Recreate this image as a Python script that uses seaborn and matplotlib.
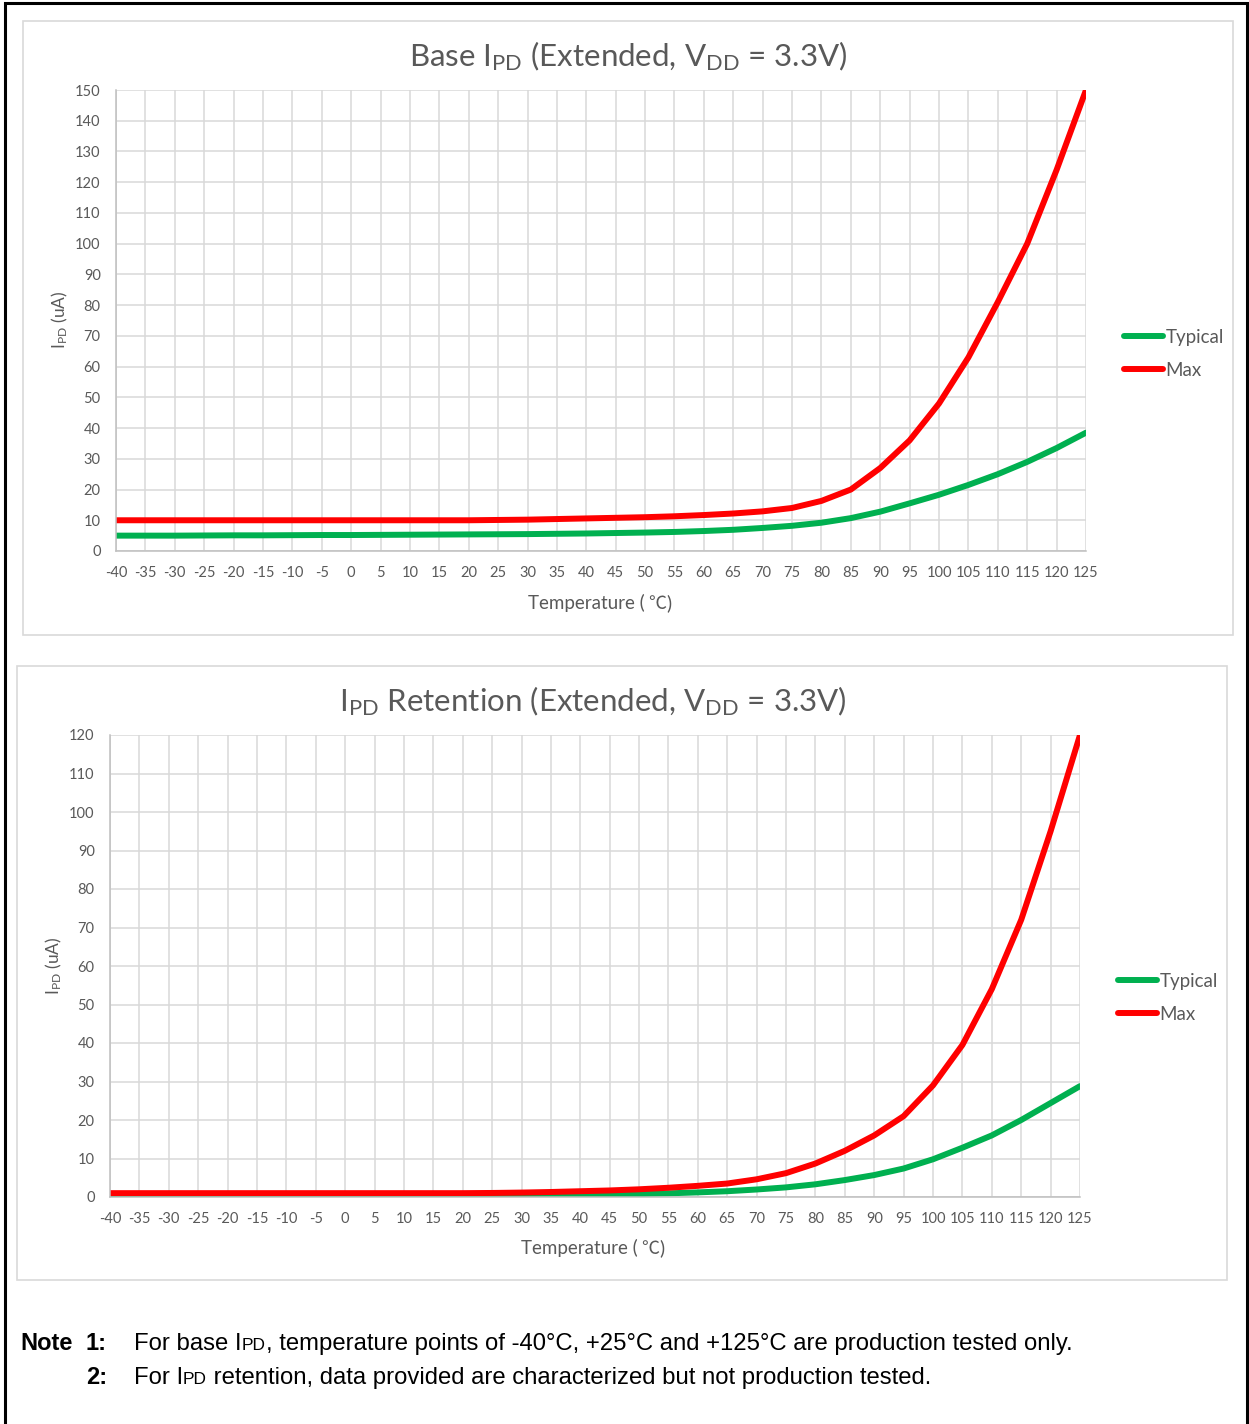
import numpy as np
import pandas as pd
import seaborn as sns
import matplotlib
matplotlib.use("Agg")
import matplotlib.pyplot as plt
from matplotlib.patches import Rectangle
from matplotlib.lines import Line2D

W, H = 1249, 1424

temps = list(range(-40, 130, 5))

base_typical = [5.0, 5.0, 5.0, 5.05, 5.1, 5.1, 5.15, 5.2, 5.2, 5.25, 5.3, 5.35, 5.4,
                5.45, 5.5, 5.6, 5.7, 5.85, 6.0, 6.2, 6.5, 6.9, 7.5, 8.2, 9.2, 10.7,
                12.8, 15.5, 18.3, 21.5, 25.0, 29.0, 33.5, 38.5]
base_max = [10.0] * 13 + [10.1, 10.2, 10.4, 10.6, 10.8, 11.0, 11.3, 11.7, 12.2, 12.9,
                          14.0, 16.3, 20.0, 27.0, 36.0, 48.0, 63.0, 81.0, 100.0, 124.0, 150.0]

ret_typical = [0.3] * 14 + [0.35, 0.4, 0.5, 0.6, 0.75, 0.95, 1.2, 1.5, 1.95, 2.5, 3.3,
                            4.4, 5.7, 7.4, 9.8, 12.8, 16.0, 20.0, 24.4, 28.8]
ret_max = [1.0] * 13 + [1.05, 1.15, 1.3, 1.5, 1.7, 2.0, 2.4, 2.9, 3.5, 4.6, 6.2, 8.7,
                        12.0, 16.0, 21.0, 29.0, 39.5, 54.0, 72.0, 95.0, 120.0]

series_names = ["Typical", "Max"]
colors = {"Typical": "#00b050", "Max": "#ff0000"}

sns.set_theme(style="white")
plt.rcParams["font.family"] = ["Lato", "Noto Sans CJK SC", "DejaVu Sans"]
plt.rcParams["axes.unicode_minus"] = False
plt.rcParams["mathtext.fontset"] = "custom"
plt.rcParams["mathtext.rm"] = "Lato"
plt.rcParams["mathtext.it"] = "Lato:italic"
plt.rcParams["mathtext.bf"] = "Lato:bold"

txt_gray = "#595959"
grid_gray = "#d9d9d9"


def fx(x):
    return x / W


def fy(y):
    return 1 - y / H


def make_df(typ, mx):
    return pd.concat([
        pd.DataFrame({"Temperature": temps, "IPD": typ, "Series": "Typical"}),
        pd.DataFrame({"Temperature": temps, "IPD": mx, "Series": "Max"}),
    ])


fig = plt.figure(figsize=(W / 100, H / 100), dpi=100)
renderer = fig.canvas.get_renderer()


def put_runs(x, y, runs, color="black", center=False):
    # runs: (text, size, weight, family)
    objs = []
    total = 0
    for text, size, weight, fam in runs:
        t = fig.text(0, fy(y), text, ha="left", va="baseline", fontsize=size,
                     fontweight=weight, family=fam, color=color)
        w = t.get_window_extent(renderer).width
        objs.append((t, w))
        total += w
    if center:
        x = x - total / 2
    for t, w in objs:
        t.set_x(fx(x))
        x += w


# outer frame and chart panels
fig.patches.append(Rectangle((fx(5), fy(1440)), fx(1242), 1437 / H, transform=fig.transFigure,
                             fill=False, edgecolor="black", linewidth=2.2))
fig.patches.append(Rectangle((fx(23), fy(635)), fx(1210), 614 / H, transform=fig.transFigure,
                             fill=False, edgecolor=grid_gray, linewidth=1.2))
fig.patches.append(Rectangle((fx(17), fy(1280)), fx(1210), 614 / H, transform=fig.transFigure,
                             fill=False, edgecolor=grid_gray, linewidth=1.2))

charts = [
    dict(df=make_df(base_typical, base_max), box=(116, 90, 1086, 551), ymax=150, ystep=10,
         title=r"Base I$_{\mathrm{PD}}$ (Extended, V$_{\mathrm{DD}}$ = 3.3V)", title_xy=(628, 56),
         ylab_xy=(60, 320), xlab_xy=(600, 609), leg_xy=(1124, 329)),
    dict(df=make_df(ret_typical, ret_max), box=(110, 735, 1080, 1197), ymax=120, ystep=10,
         title=r"I$_{\mathrm{PD}}$ Retention (Extended, V$_{\mathrm{DD}}$ = 3.3V)", title_xy=(593, 701),
         ylab_xy=(54, 966), xlab_xy=(593, 1254), leg_xy=(1118, 973)),
]

lato = ["Lato", "DejaVu Sans"]
cjk = ["Noto Sans CJK SC", "DejaVu Sans"]

for c in charts:
    x0, y0, x1, y1 = c["box"]
    ax = fig.add_axes([fx(x0), fy(y1), fx(x1 - x0), (y1 - y0) / H])
    sns.lineplot(data=c["df"], x="Temperature", y="IPD", hue="Series", palette=colors,
                 linewidth=4.3, ax=ax, legend=False)
    ax.set_xlim(-40, 125)
    ax.set_ylim(0, c["ymax"])
    ax.set_xticks(temps)
    ax.set_yticks(range(0, c["ymax"] + 1, c["ystep"]))
    ax.grid(True, color=grid_gray, linewidth=1.1)
    ax.set_axisbelow(True)
    for s in ["top", "right"]:
        ax.spines[s].set_visible(False)
    for s in ["left", "bottom"]:
        ax.spines[s].set_color("#bfbfbf")
        ax.spines[s].set_linewidth(1.1)
    ax.tick_params(axis="both", length=0, labelsize=10.5, labelcolor=txt_gray)
    ax.tick_params(axis="x", pad=11)
    ax.tick_params(axis="y", pad=11)
    ax.set_xlabel("")
    ax.set_ylabel("")

    fig.text(fx(c["title_xy"][0]), fy(c["title_xy"][1]), c["title"], ha="center", va="center",
             fontsize=22.5, color=txt_gray)
    fig.text(fx(c["ylab_xy"][0]), fy(c["ylab_xy"][1]), r"I$_{\mathrm{PD}}$ (uA)", ha="center",
             va="center", rotation=90, fontsize=12.5, color=txt_gray)
    put_runs(c["xlab_xy"][0], c["xlab_xy"][1],
             [("Temperature (", 13.5, "normal", lato), (" ℃", 13, "normal", cjk),
              (")", 13.5, "normal", lato)], color=txt_gray, center=True)

    handles = [Line2D([], [], color=colors[n], linewidth=4.3) for n in series_names]
    leg = fig.legend(handles, series_names, loc="upper left",
                     bbox_to_anchor=(fx(c["leg_xy"][0]), fy(c["leg_xy"][1])),
                     bbox_transform=fig.transFigure, frameon=False, fontsize=13.5,
                     handlelength=2.1, handletextpad=0.1, labelspacing=0.85,
                     borderaxespad=0, borderpad=0)
    for t in leg.get_texts():
        t.set_color(txt_gray)

# notes below the charts
arial = ["Liberation Sans", "DejaVu Sans"]
put_runs(20, 1350, [("Note", 17, "bold", arial)])
put_runs(86, 1350, [("1:", 17, "bold", arial)])
put_runs(134, 1350, [("For base I", 17.2, "normal", arial), ("PD", 12.5, "normal", arial),
                     (", temperature points of -40°C, +25°C and +125°C are production tested only.",
                      17.2, "normal", arial)])
put_runs(86, 1384, [("2:", 17, "bold", arial)])
put_runs(134, 1384, [("For I", 17.2, "normal", arial), ("PD", 12.5, "normal", arial),
                     (" retention, data provided are characterized but not production tested.",
                      17.2, "normal", arial)])

fig.savefig("out.png", dpi=100)
